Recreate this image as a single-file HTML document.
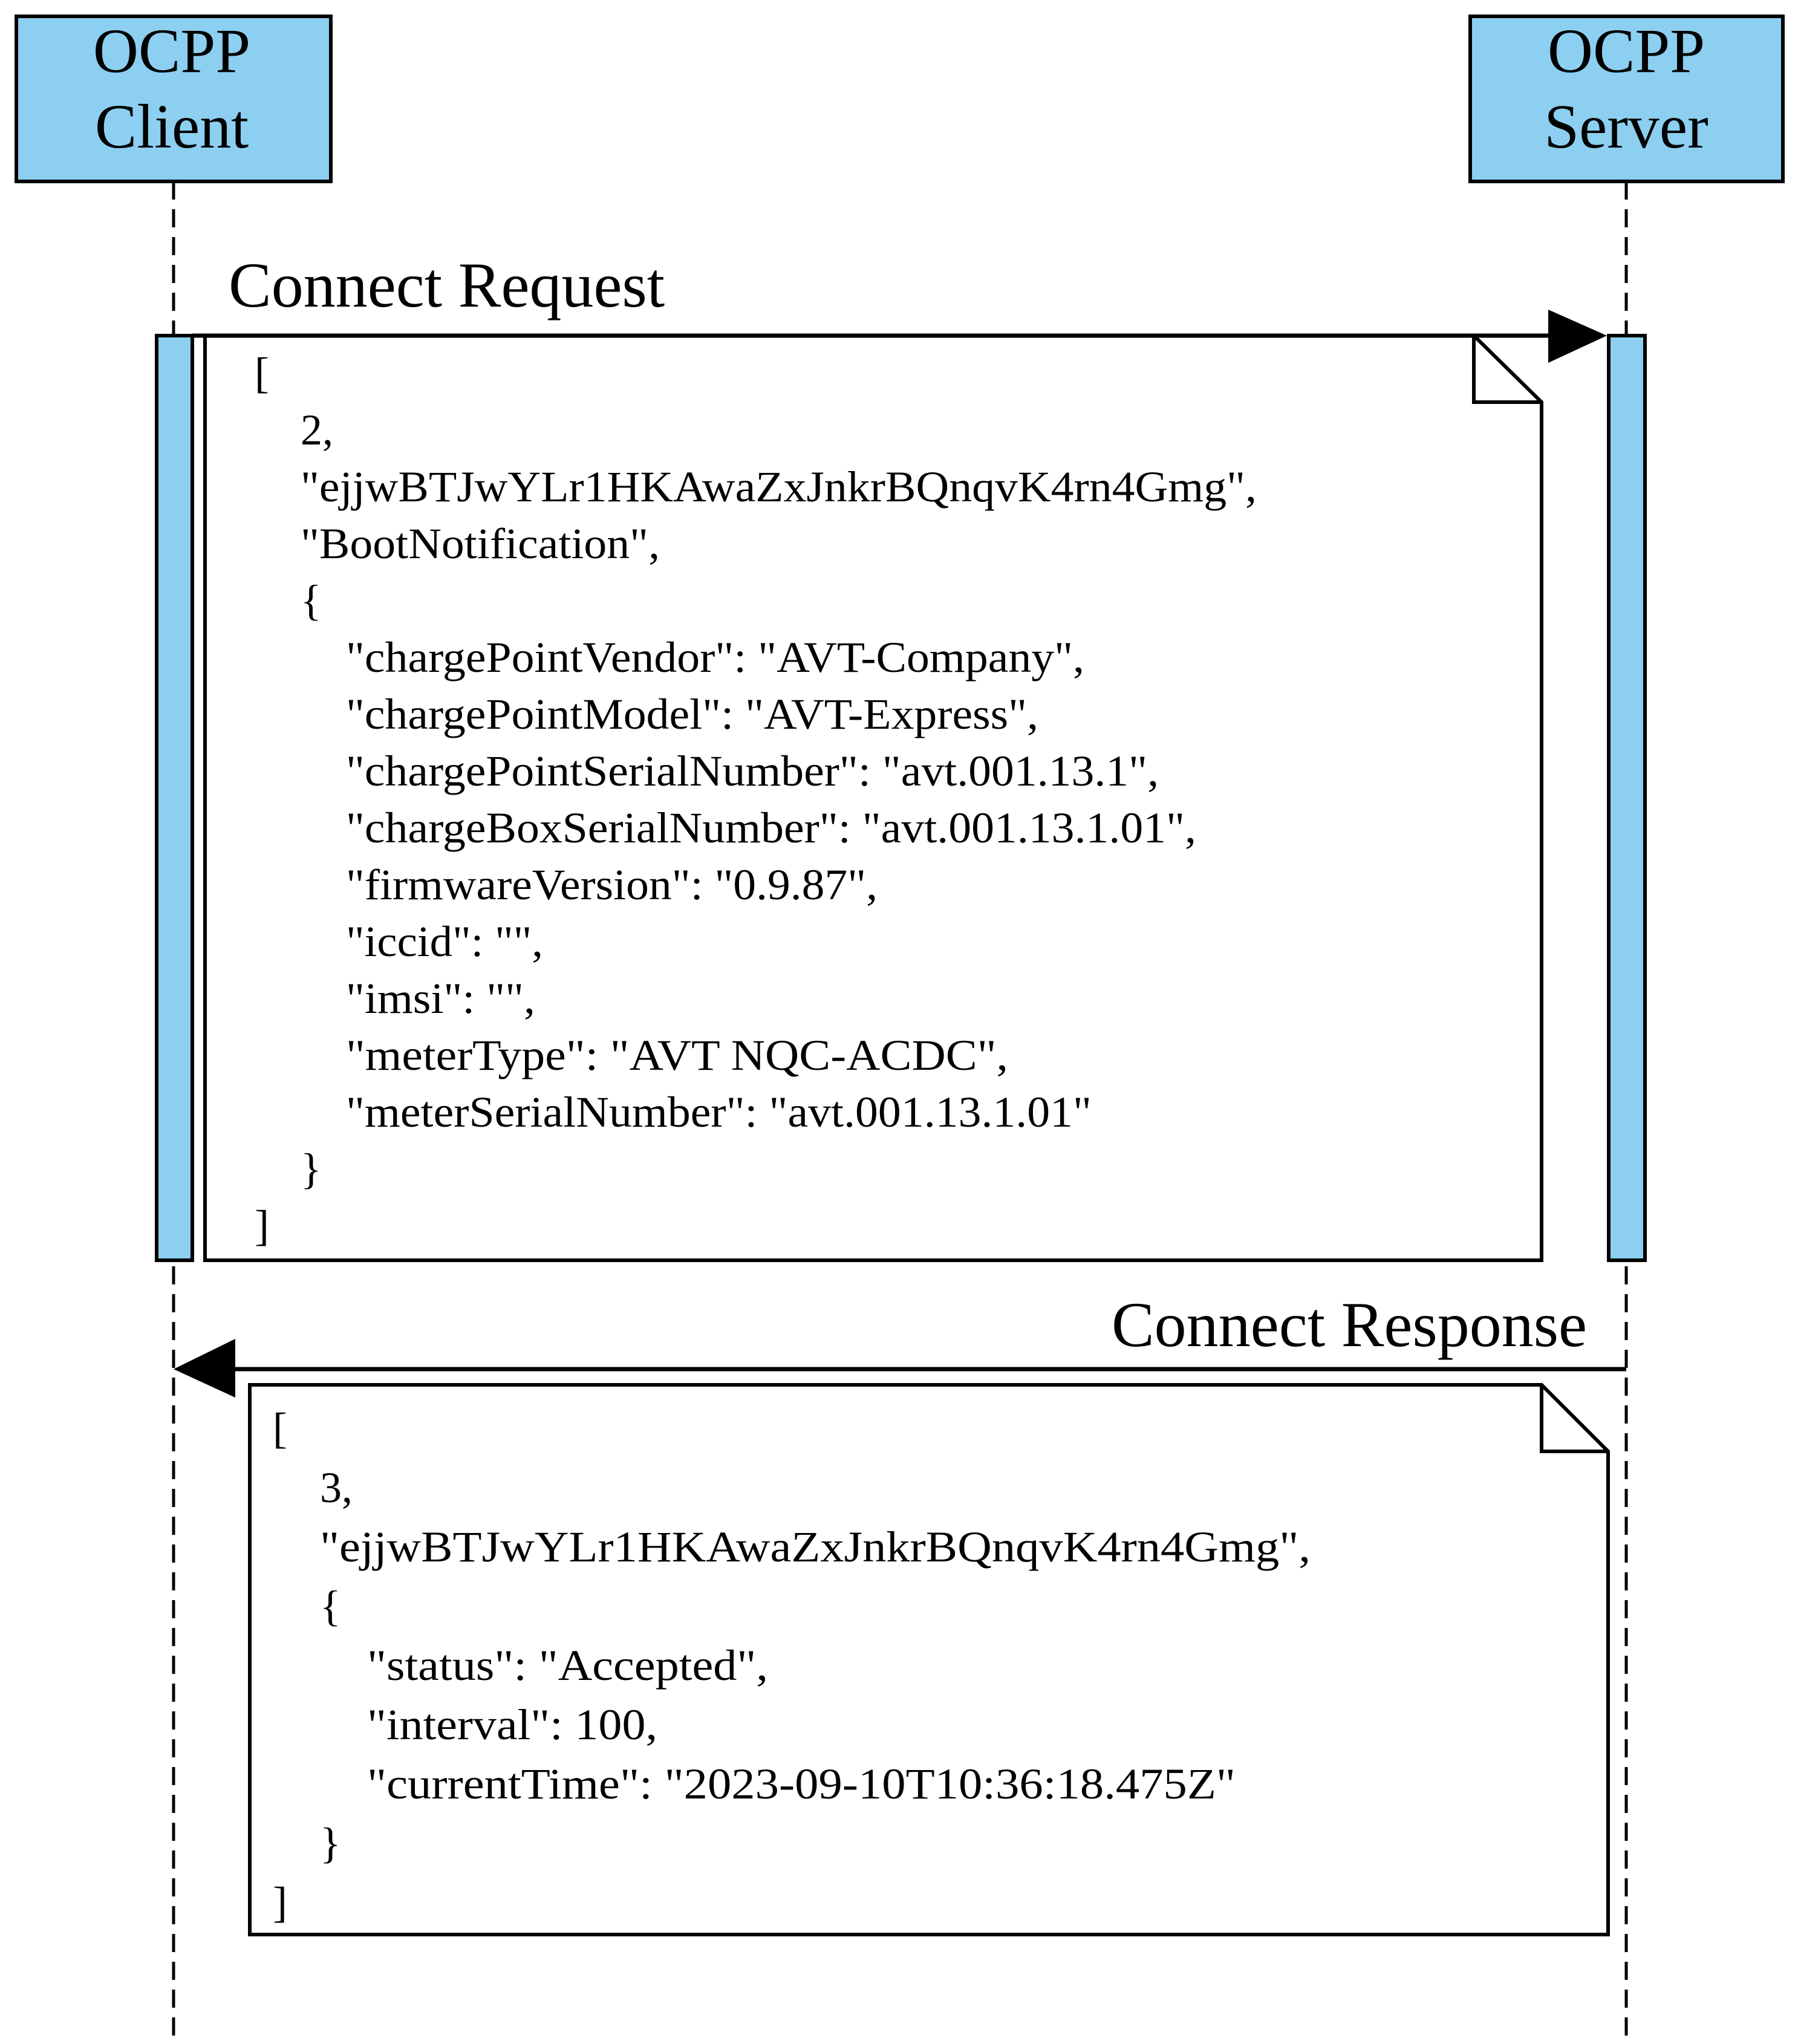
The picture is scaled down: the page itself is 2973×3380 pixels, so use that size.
<!DOCTYPE html>
<html><head><meta charset="utf-8"><style>html,body{margin:0;padding:0;background:#fff}svg{display:block}</style></head>
<body>
<svg width="2973" height="3380" viewBox="0 0 2973 3380" xmlns="http://www.w3.org/2000/svg" font-family="Liberation Serif, serif">
<rect width="2973" height="3380" fill="#fff"/>
<!-- lifelines -->
<line x1="287" y1="300" x2="287" y2="3380" stroke="#000" stroke-width="5" stroke-dasharray="30,16"/>
<line x1="2689" y1="300" x2="2689" y2="3380" stroke="#000" stroke-width="5" stroke-dasharray="30,16"/>
<!-- heads -->
<rect x="27" y="27" width="520" height="273" fill="#8ccff0" stroke="#000" stroke-width="6"/>
<rect x="2431" y="27" width="517" height="273" fill="#8ccff0" stroke="#000" stroke-width="6"/>
<g font-size="104" text-anchor="middle" fill="#000">
<text x="284" y="119">OCPP</text><text x="284" y="244">Client</text>
<text x="2689" y="119">OCPP</text><text x="2689" y="244">Server</text>
</g>
<!-- activation bars -->
<rect x="259" y="555" width="59" height="1529" fill="#8ccff0" stroke="#000" stroke-width="6"/>
<rect x="2660" y="555" width="60" height="1529" fill="#8ccff0" stroke="#000" stroke-width="6"/>
<!-- request -->
<text x="378" y="507" font-size="106">Connect Request</text>
<path d="M339 555 L2437 555 L2549 665 L2549 2084 L339 2084 Z" fill="#fff" stroke="#000" stroke-width="6"/>
<path d="M2437 555 L2437 665 L2549 665" fill="none" stroke="#000" stroke-width="6"/>
<line x1="318" y1="555" x2="2570" y2="555" stroke="#000" stroke-width="7"/>
<polygon points="2560,512 2657,555 2560,600" fill="#000"/>
<g font-size="72" fill="#000">
<text x="421" y="641">[</text>
<text x="497" y="735">2,</text>
<text x="497" y="829" textLength="1581" lengthAdjust="spacingAndGlyphs">"ejjwBTJwYLr1HKAwaZxJnkrBQnqvK4rn4Gmg",</text>
<text x="497" y="923" textLength="594" lengthAdjust="spacingAndGlyphs">"BootNotification",</text>
<text x="497" y="1017">{</text>
<text x="572" y="1111" textLength="1221" lengthAdjust="spacingAndGlyphs">"chargePointVendor": "AVT-Company",</text>
<text x="572" y="1205" textLength="1145" lengthAdjust="spacingAndGlyphs">"chargePointModel": "AVT-Express",</text>
<text x="572" y="1299" textLength="1344" lengthAdjust="spacingAndGlyphs">"chargePointSerialNumber": "avt.001.13.1",</text>
<text x="572" y="1393" textLength="1406" lengthAdjust="spacingAndGlyphs">"chargeBoxSerialNumber": "avt.001.13.1.01",</text>
<text x="572" y="1487" textLength="879" lengthAdjust="spacingAndGlyphs">"firmwareVersion": "0.9.87",</text>
<text x="572" y="1581" textLength="326" lengthAdjust="spacingAndGlyphs">"iccid": "",</text>
<text x="572" y="1675" textLength="313" lengthAdjust="spacingAndGlyphs">"imsi": "",</text>
<text x="572" y="1769" textLength="1095" lengthAdjust="spacingAndGlyphs">"meterType": "AVT NQC-ACDC",</text>
<text x="572" y="1863" textLength="1233" lengthAdjust="spacingAndGlyphs">"meterSerialNumber": "avt.001.13.1.01"</text>
<text x="497" y="1957">}</text>
<text x="421" y="2051">]</text>
</g>
<!-- response -->
<text x="2624" y="2226" font-size="106" text-anchor="end">Connect Response</text>
<line x1="370" y1="2264" x2="2689" y2="2264" stroke="#000" stroke-width="7"/>
<polygon points="389,2214 287,2264 389,2311" fill="#000"/>
<path d="M413 2290 L2549 2290 L2659 2400 L2659 3199 L413 3199 Z" fill="#fff" stroke="#000" stroke-width="6"/>
<path d="M2549 2290 L2549 2400 L2659 2400" fill="none" stroke="#000" stroke-width="6"/>
<g font-size="72" fill="#000">
<text x="451" y="2386">[</text>
<text x="529" y="2484">3,</text>
<text x="529" y="2582" textLength="1638" lengthAdjust="spacingAndGlyphs">"ejjwBTJwYLr1HKAwaZxJnkrBQnqvK4rn4Gmg",</text>
<text x="529" y="2680">{</text>
<text x="607" y="2778" textLength="663" lengthAdjust="spacingAndGlyphs">"status": "Accepted",</text>
<text x="607" y="2876" textLength="480" lengthAdjust="spacingAndGlyphs">"interval": 100,</text>
<text x="607" y="2974" textLength="1436" lengthAdjust="spacingAndGlyphs">"currentTime": "2023-09-10T10:36:18.475Z"</text>
<text x="529" y="3072">}</text>
<text x="451" y="3170">]</text>
</g>
</svg>
</body></html>
